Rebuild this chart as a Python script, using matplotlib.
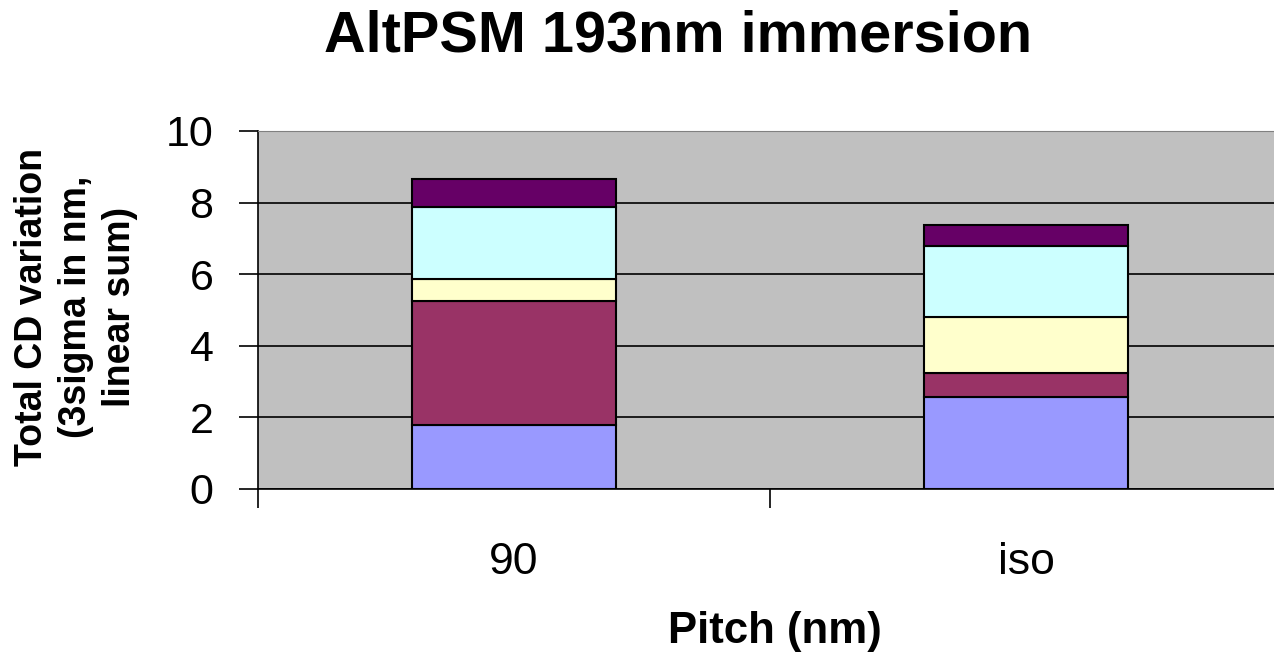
import matplotlib
matplotlib.use("Agg")
import matplotlib.pyplot as plt
import numpy as np

plt.rcParams['font.family'] = ['Liberation Sans', 'DejaVu Sans']

# данные
categories = ['90', 'iso']
seg1 = [1.79, 2.56]
seg2 = [3.46, 0.68]
seg3 = [0.61, 1.56]
seg4 = [2.01, 2.00]
seg5 = [0.78, 0.58]
series = [seg1, seg2, seg3, seg4, seg5]
colors = ['#9999FF', '#993366', '#FFFFCC', '#CCFFFF', '#660066']
yticks = [0, 2, 4, 6, 8, 10]

W, H = 1274, 659
fig = plt.figure(figsize=(W / 100, H / 100), dpi=100)
ax = fig.add_axes([258 / W, 1 - 489 / H, 1024 / W, 358 / H])
ax.set_facecolor('#C0C0C0')

x = np.arange(len(categories))
bottom = np.zeros(len(categories))
for vals, c in zip(series, colors):
    ax.bar(x, vals, width=0.4, bottom=bottom, color=c, edgecolor='black',
           linewidth=1.5, zorder=3)
    bottom += np.array(vals)

ax.set_xlim(-0.5, 1.5)
ax.set_ylim(0, 10)
ax.set_yticks(yticks)
ax.set_yticklabels([str(t) for t in yticks], fontsize=31)
ax.yaxis.grid(True, color='black', linewidth=1.2, zorder=1)
ax.set_axisbelow(True)

# тики по x на границах категорий
ax.set_xticks([-0.5, 0.5, 1.5])
ax.set_xticklabels([])
ax.set_xticks(x, minor=True)
ax.set_xticklabels(categories, minor=True, fontsize=32)
ax.tick_params(axis='x', which='minor', length=0, pad=38)
ax.tick_params(axis='x', which='major', length=14, width=1.2, direction='out')
ax.tick_params(axis='y', length=14, width=1.2, direction='out', pad=18)

for s in ['left', 'bottom']:
    ax.spines[s].set_color('black')
    ax.spines[s].set_linewidth(1.2)
ax.spines['top'].set_color('#808080')
ax.spines['right'].set_visible(False)

fig.text(775 / W, 1 - 631 / H, 'Pitch (nm)', fontsize=31.5, fontweight='bold',
         ha='center', va='center')
fig.text(76 / W, 1 - 307 / H, 'Total CD variation\n(3sigma in nm,\nlinear sum)',
         fontsize=27, fontweight='bold', rotation=90, ha='center', va='center',
         multialignment='center', linespacing=1.3)
fig.text(678 / W, 1 - 36 / H, 'AltPSM 193nm immersion', fontsize=41.5,
         fontweight='bold', ha='center', va='center')

fig.savefig('out.png', dpi=100)
